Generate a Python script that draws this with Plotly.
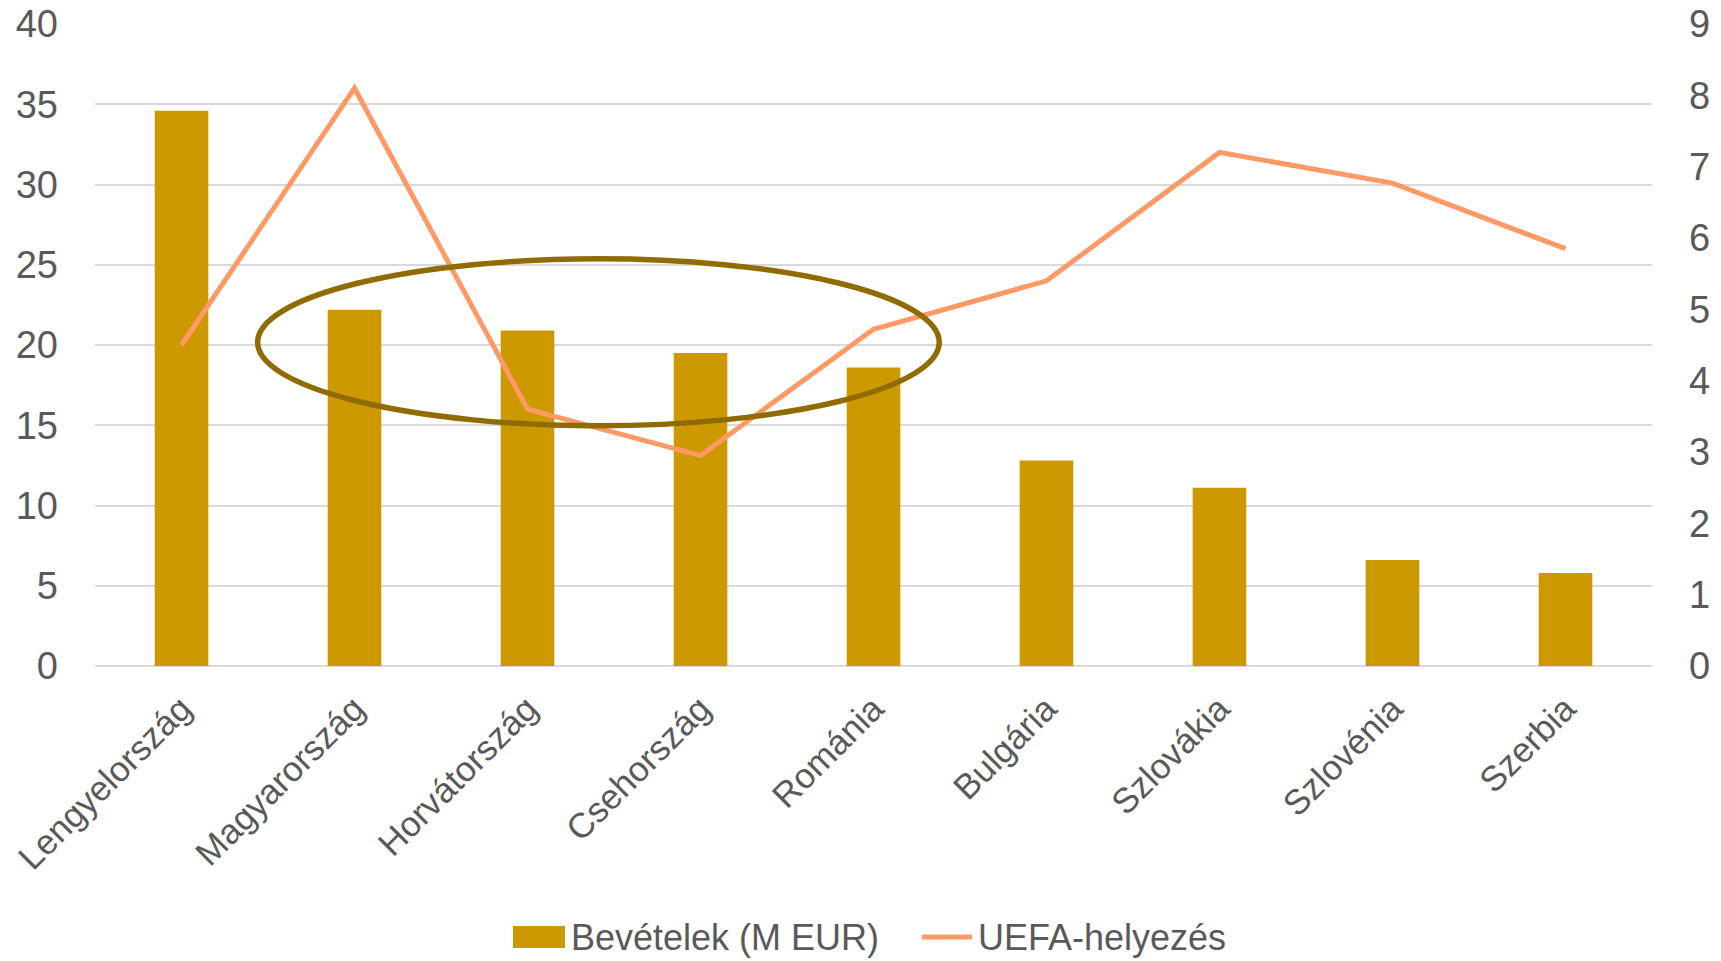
import plotly.graph_objects as go

countries = ['Lengyelország', 'Magyarország', 'Horvátország', 'Csehország', 'Románia',
             'Bulgária', 'Szlovákia', 'Szlovénia', 'Szerbia']
revenue = [34.6, 22.2, 20.9, 19.5, 18.6, 12.8, 11.1, 6.6, 5.8]
uefa_rank = [4.5, 8.1, 3.6, 2.95, 4.72, 5.4, 7.2, 6.77, 5.85]

bar_name = 'Bevételek (M EUR)'
line_name = 'UEFA-helyezés'

font_family = 'Liberation Sans, Arial, sans-serif'
grey = '#595959'
bar_color = '#CC9900'
line_color = '#FF9966'

W, H = 1721, 961
L, R, T, B = 95, 69, 24, 295
pw, ph = W - L - R, H - T - B


def px_x(x):
    return (x - L) / pw


def px_y(y):
    return (H - B - y) / ph


bars = go.Bar(x=countries, y=revenue, name=bar_name,
              marker={'color': bar_color, 'line': {'width': 0}},
              width=0.31)

line = go.Scatter(x=countries, y=uefa_rank, name=line_name, yaxis='y2',
                  mode='lines', line={'color': line_color, 'width': 5})

fig = go.Figure(data=[bars, line])

# circle around the middle group
fig.add_shape(type='circle', xref='x', yref='y',
              x0=0.44, x1=4.38, y0=14.97, y1=25.37,
              line={'color': '#8F6B00', 'width': 5.5})

# hand-made legend (bigger swatches than plotly's)
fig.add_shape(type='rect', xref='paper', yref='paper',
              x0=px_x(513), x1=px_x(565), y0=px_y(948), y1=px_y(926),
              fillcolor=bar_color, line={'width': 0})
fig.add_shape(type='line', xref='paper', yref='paper',
              x0=px_x(922), x1=px_x(972), y0=px_y(937), y1=px_y(937),
              line={'color': line_color, 'width': 5})
fig.add_annotation(text=bar_name, xref='paper', yref='paper',
                   x=px_x(569), y=px_y(937), xanchor='left', yanchor='middle',
                   showarrow=False, font={'size': 36, 'color': grey})
fig.add_annotation(text=line_name, xref='paper', yref='paper',
                   x=px_x(976), y=px_y(937), xanchor='left', yanchor='middle',
                   showarrow=False, font={'size': 36, 'color': grey})

fig.update_layout(
    width=W, height=H,
    margin={'l': L, 'r': R, 't': T, 'b': B, 'autoexpand': False},
    plot_bgcolor='white', paper_bgcolor='white',
    font={'family': font_family, 'size': 38, 'color': grey},
    showlegend=False,
    xaxis={'tickangle': -45, 'showgrid': False, 'showline': False,
           'ticks': '', 'automargin': False, 'tickfont': {'size': 35},
           'ticklabelstandoff': 14},
    yaxis={'range': [0, 40], 'dtick': 5, 'gridcolor': '#D9D9D9', 'gridwidth': 2,
           'zeroline': True, 'zerolinecolor': '#D9D9D9', 'zerolinewidth': 2,
           'showline': False, 'ticks': '', 'ticklabelstandoff': 36,
           'automargin': False},
    yaxis2={'range': [0, 9], 'dtick': 1, 'overlaying': 'y', 'side': 'right',
            'showgrid': False, 'zeroline': False, 'showline': False,
            'ticks': '', 'ticklabelstandoff': 36, 'automargin': False},
)

# the page body has a default 8px margin, drop it so the chart fills the window
fig.write_html('out.html', config={'displayModeBar': False},
               post_script="document.body.style.margin='0';")
